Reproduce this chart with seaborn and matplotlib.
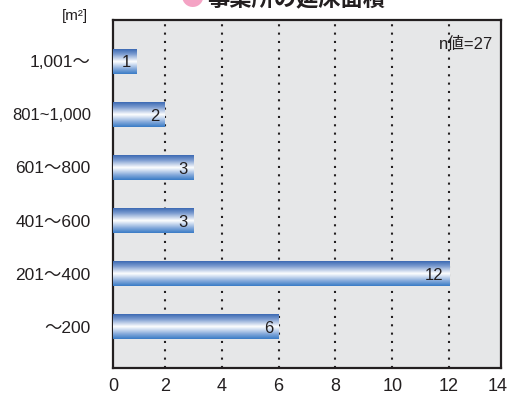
import numpy as np
import pandas as pd
import matplotlib
matplotlib.use('Agg')
import matplotlib.pyplot as plt
import seaborn as sns

# data
categories = ['1,001〜', '801~1,000', '601〜800', '401〜600', '201〜400', '〜200']
counts = [1, 2, 3, 3, 12, 6]
xticks = [0, 2, 4, 6, 8, 10, 12, 14]
title = '事業所の延床面積'
n_label = 'n値=27'

df = pd.DataFrame({'area': categories, 'count': counts})

sns.set_style('white')
plt.rcParams['font.family'] = ['Liberation Sans', 'Noto Sans CJK JP', 'DejaVu Sans']

fig = plt.figure(figsize=(5.14, 3.96), dpi=100)
ax = fig.add_axes([113 / 514, 28 / 396, 388 / 514, 348 / 396])
ax.set_facecolor('#e6e7e8')

sns.barplot(x='count', y='area', data=df, orient='h', color='#4a7cc0',
            width=0.47, ax=ax, zorder=3)

xlo, xhi = 0.17, 13.83
ax.set_xlim(xlo, xhi)
ax.set_ylim(5.78, -0.78)

# blue-white-blue gradient fill for each bar
cmap = matplotlib.colors.LinearSegmentedColormap.from_list(
    'bar', [(0.0, '#3d6ab3'), (0.2, '#7c9cd0'), (0.5, '#ffffff'),
            (0.8, '#85aadb'), (1.0, '#3a7cc6')])
gy = np.linspace(0, 1, 64).reshape(-1, 1)
for p in ax.patches:
    x0, y0 = p.get_x(), p.get_y()
    w, h = p.get_width(), p.get_height()
    left = max(x0, xlo)
    ax.imshow(gy, cmap=cmap, aspect='auto', extent=[left, x0 + w, y0 + h, y0],
              zorder=4, interpolation='bilinear')
    p.set_edgecolor('none')
ax.set_xlim(xlo, xhi)
ax.set_ylim(5.78, -0.78)

# value labels
for i, v in enumerate(counts):
    ax.text(v - 0.2, i + 0.03, str(v), ha='right', va='center',
            fontsize=12, color='#231f20', zorder=5)

# dotted grid
for x in xticks[1:-1]:
    ax.axvline(x, color='#231f20', linestyle=(0, (1, 3)), linewidth=1.5, zorder=2)

# 0 and 14 labels sit at the frame edges
tick_pos = [xlo] + xticks[1:-1] + [13.72]
ax.set_xticks(tick_pos)
ax.set_xticklabels([str(t) for t in xticks], fontsize=13, color='#231f20')
ax.tick_params(axis='x', length=0, pad=7)
ax.tick_params(axis='y', length=0, pad=16)
sizes = [12.5, 12, 12.5, 12.5, 12.5, 12.5]
for lab, s in zip(ax.get_yticklabels(), sizes):
    lab.set_fontsize(s)
    lab.set_color('#231f20')
ax.set_xlabel('')
ax.set_ylabel('')

for sp in ax.spines.values():
    sp.set_visible(True)
    sp.set_color('#231f20')
    sp.set_linewidth(1.6)

ax.text(493 / 514, 1 - 44 / 396, n_label, transform=fig.transFigure,
        ha='right', va='center', fontsize=12, color='#231f20', zorder=6)

fig.text(75 / 514, 1 - 16 / 396, '[m²]', ha='center', va='center',
         fontsize=11, color='#231f20')

# title, cut at the top edge as in the reference
fig.text(205 / 514, 1 - 5 / 396, '●', ha='right', va='baseline', fontsize=17,
         color='#f4a3c4', family=['Noto Sans CJK JP'])
fig.text(207 / 514, 1 - 5 / 396, title, ha='left', va='baseline', fontsize=16,
         fontweight='bold', color='#231f20')

fig.savefig('out.png', dpi=100)
